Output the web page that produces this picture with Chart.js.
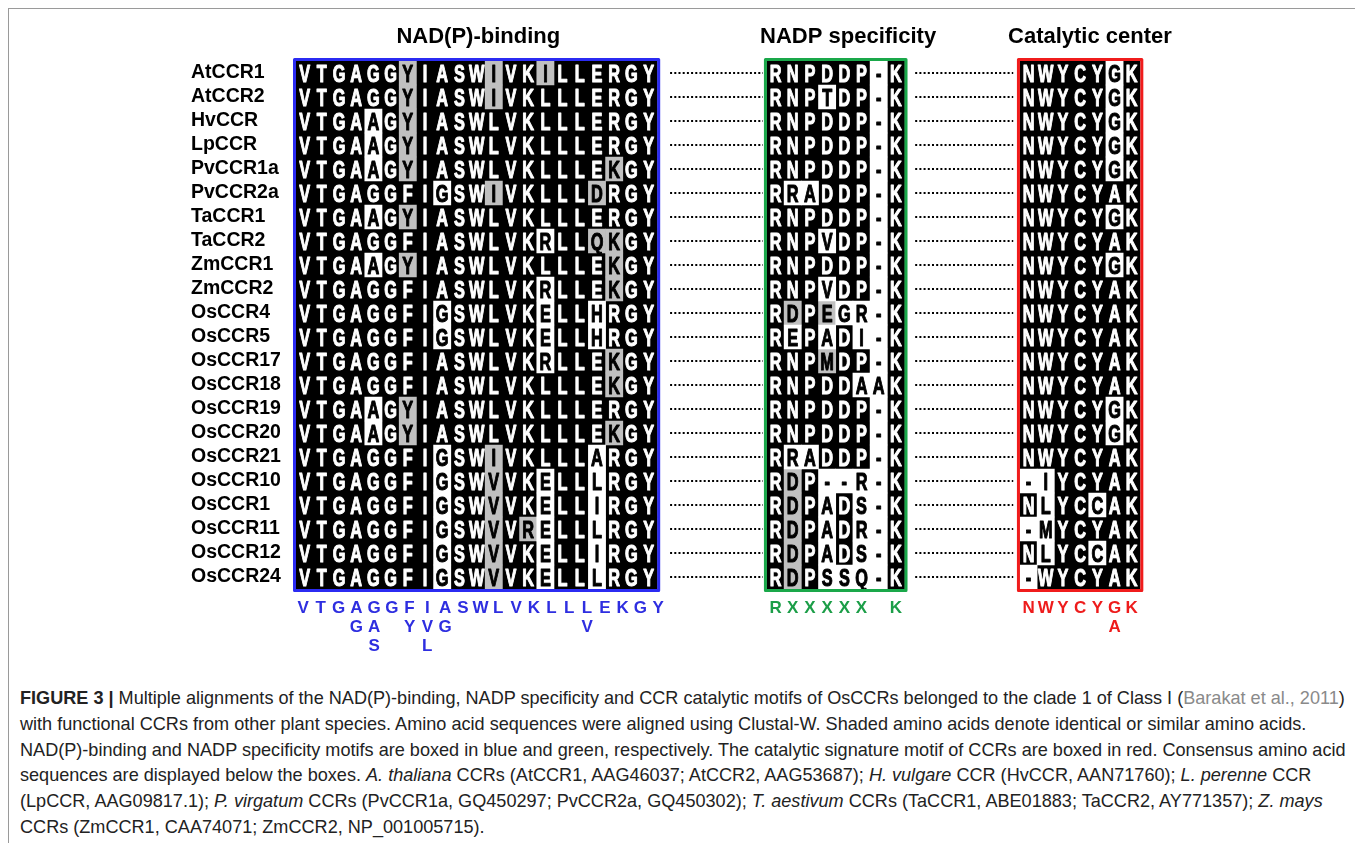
<!DOCTYPE html>
<html>
<head>
<meta charset="utf-8">
<script src="https://cdn.jsdelivr.net/npm/chart.js@4.4.1/dist/chart.umd.min.js"></script>
<style>
  body { margin: 0; background: #fff; width: 1355px; height: 843px; overflow: hidden; position: relative; font-family: "Liberation Sans", Arial, sans-serif; }
  #frame { position: absolute; left: 8px; top: 8px; width: 1400px; height: 900px; border: 1px solid #9a9a9a; }
  #wrap { position: absolute; left: 0; top: 0; width: 1355px; height: 680px; }
  #caption { position: absolute; left: 20px; top: 686px; font-size: 18.1px; line-height: 25.8px; color: #222; white-space: nowrap; }
  #caption .ref { color: #8a8a8a; }
</style>
</head>
<body>
<div id="frame"></div>
<div id="wrap"><canvas id="alignChart" width="1355" height="680"></canvas></div>
<div id="caption"><b>FIGURE 3 |</b> Multiple alignments of the NAD(P)-binding, NADP specificity and CCR catalytic motifs of OsCCRs belonged to the clade 1 of Class I (<span class="ref">Barakat et al., 2011</span>)<br>with functional CCRs from other plant species. Amino acid sequences were aligned using Clustal-W. Shaded amino acids denote identical or similar amino acids.<br>NAD(P)-binding and NADP specificity motifs are boxed in blue and green, respectively. The catalytic signature motif of CCRs are boxed in red. Consensus amino acid<br>sequences are displayed below the boxes. <i>A. thaliana</i> CCRs (AtCCR1, AAG46037; AtCCR2, AAG53687); <i>H. vulgare</i> CCR (HvCCR, AAN71760); <i>L. perenne</i> CCR<br>(LpCCR, AAG09817.1); <i>P. virgatum</i> CCRs (PvCCR1a, GQ450297; PvCCR2a, GQ450302); <i>T. aestivum</i> CCRs (TaCCR1, ABE01883; TaCCR2, AY771357); <i>Z. mays</i><br>CCRs (ZmCCR1, CAA74071; ZmCCR2, NP_001005715).</div>
<script>
const rows = ["AtCCR1", "AtCCR2", "HvCCR", "LpCCR", "PvCCR1a", "PvCCR2a", "TaCCR1", "TaCCR2", "ZmCCR1", "ZmCCR2", "OsCCR4", "OsCCR5", "OsCCR17", "OsCCR18", "OsCCR19", "OsCCR20", "OsCCR21", "OsCCR10", "OsCCR1", "OsCCR11", "OsCCR12", "OsCCR24"];

// shading: "." identical (black), "w" differing (white), "g" similar (grey)
const bindingSeq = [
  "VTGAGGYIASWIVKILLERGY", "VTGAGGYIASWIVKLLLERGY", "VTGAAGYIASWLVKLLLERGY", "VTGAAGYIASWLVKLLLERGY",
  "VTGAAGYIASWLVKLLLEKGY", "VTGAGGFIGSWIVKLLLDRGY", "VTGAAGYIASWLVKLLLERGY", "VTGAGGFIASWLVKRLLQKGY",
  "VTGAAGYIASWLVKLLLEKGY", "VTGAGGFIASWLVKRLLEKGY", "VTGAGGFIGSWLVKELLHRGY", "VTGAGGFIGSWLVKELLHRGY",
  "VTGAGGFIASWLVKRLLEKGY", "VTGAGGFIASWLVKLLLEKGY", "VTGAAGYIASWLVKLLLERGY", "VTGAAGYIASWLVKLLLEKGY",
  "VTGAGGFIGSWIVKLLLARGY", "VTGAGGFIGSWVVKELLLRGY", "VTGAGGFIGSWVVKELLIRGY", "VTGAGGFIGSWVVRELLLRGY",
  "VTGAGGFIGSWVVKELLIRGY", "VTGAGGFIGSWVVKELLLRGY"
];
const bindingShade = [
  "......g....g..g......", "......g....g.........", "....w.g..............", "....w.g..............",
  "....w.g...........g..", "........w..g.....g...", "....w.g..............", "..............w..gg..",
  "....w.g...........g..", "..............w...g..", "........w.....w..w...", "........w.....w..w...",
  "..............w...g..", "..................g..", "....w.g..............", "....w.g...........g..",
  "........w..g.....w...", "........w..g..w..w...", "........w..g..w..w...", "........w..g.gw..w...",
  "........w..g..w..w...", "........w..g..w..w..."
];
const specSeq = [
  "RNPDDP-K", "RNPTDP-K", "RNPDDP-K", "RNPDDP-K", "RNPDDP-K", "RRADDP-K", "RNPDDP-K", "RNPVDP-K",
  "RNPDDP-K", "RNPVDP-K", "RDPEGR-K", "REPADI-K", "RNPMDP-K", "RNPDDAAK", "RNPDDP-K", "RNPDDP-K",
  "RRADDP-K", "RDP--R-K", "RDPADS-K", "RDPADR-K", "RDPADS-K", "RDPSSQ-K"
];
const specShade = [
  "......w.", "...w..w.", "......w.", "......w.", "......w.", ".ww...w.", "......w.", "...w..w.",
  "......w.", "...w..w.", ".g.gwww.", ".w.w.ww.", "...g..w.", ".....ww.", "......w.", "......w.",
  ".ww...w.", ".g.wwww.", ".g.w.ww.", ".g.w.ww.", ".g.w.ww.", ".g.wwww."
];
const catSeq = [
  "NWYCYGK", "NWYCYGK", "NWYCYGK", "NWYCYGK", "NWYCYGK", "NWYCYAK", "NWYCYGK", "NWYCYAK",
  "NWYCYGK", "NWYCYAK", "NWYCYAK", "NWYCYAK", "NWYCYAK", "NWYCYAK", "NWYCYGK", "NWYCYGK",
  "NWYCYAK", "-IYCYAK", "NLYCCAK", "-MYCYAK", "NLYCCAK", "-WYCYAK"
];
const catShade = [
  ".....w.", ".....w.", ".....w.", ".....w.", ".....w.", ".......", ".....w.", ".......",
  ".....w.", ".......", ".......", ".......", ".......", ".......", ".....w.", ".....w.",
  ".......", "ww.....", ".w..w..", "ww.....", ".w..w..", "w......"
];

const bindingConsensus = ["VTGAGGFIASWLVKLLLEKGY", "   GA YVG       V    ", "    S  L             "];
const specConsensus = ["RXXXXX K"];
const catConsensus = ["NWYCYGK", "     A "];

// layout in column units (1 unit = one residue cell)
const blocks = [
  { title: "NAD(P)-binding", seq: bindingSeq, shade: bindingShade, cons: bindingConsensus,
    start: 0, titleAt: 10.6, consStart: 0.41, consStep: 1.032, edge: "#2b2bf2", text: "#2e2ee0" },
  { title: "NADP specificity", seq: specSeq, shade: specShade, cons: specConsensus,
    start: 27.38, titleAt: 32.1, consStart: 0.5, consStep: 1, edge: "#1aa84a", text: "#1c9e48" },
  { title: "Catalytic center", seq: catSeq, shade: catShade, cons: catConsensus,
    start: 42.09, titleAt: 46.16, consStart: 0.5, consStep: 1, edge: "#f01c1c", text: "#ee1c1c" }
];
const leaders = [[21.75, 27.15], [36.0, 41.7]];
const FONT = '"Liberation Sans", Arial, sans-serif';
const shadeColor = { ".": "#000000", w: "#ffffff", g: "#c0c0c0" };

function cells(kind) {
  const out = [];
  blocks.forEach((b) => {
    b.shade.forEach((s, r) => {
      for (let c = 0; c < s.length; c++) {
        if (s[c] === kind) out.push({ y: rows[r], x: [b.start + c, b.start + c + 1] });
      }
    });
  });
  return out;
}

const boxes = [];
blocks.forEach((b) => {
  rows.forEach((r) => boxes.push({ y: r, x: [b.start, b.start + b.seq[0].length] }));
});

const alignPlugin = {
  id: "alignText",
  afterDatasetsDraw(chart) {
    const ctx = chart.ctx;
    const xs = chart.scales.x;
    const ys = chart.scales.y;
    const area = chart.chartArea;
    ctx.save();

    // dotted leaders between boxes
    ctx.strokeStyle = "#000";
    ctx.lineWidth = 2;
    ctx.setLineDash([2, 2.2]);
    rows.forEach((r, i) => {
      const py = ys.getPixelForValue(i);
      leaders.forEach((l) => {
        ctx.beginPath();
        ctx.moveTo(xs.getPixelForValue(l[0]), py);
        ctx.lineTo(xs.getPixelForValue(l[1]), py);
        ctx.stroke();
      });
    });
    ctx.setLineDash([]);

    blocks.forEach((b) => {
      const n = b.seq[0].length;
      const left = xs.getPixelForValue(b.start);
      const right = xs.getPixelForValue(b.start + n);

      // residues
      ctx.font = "bold 24px " + FONT;
      ctx.textAlign = "center";
      ctx.textBaseline = "alphabetic";
      ctx.lineJoin = "round";
      b.seq.forEach((s, r) => {
        const py = ys.getPixelForValue(r) + 8.6;
        for (let c = 0; c < n; c++) {
          const col = b.shade[r][c] === "." ? "#fff" : "#000";
          ctx.fillStyle = col;
          ctx.strokeStyle = col;
          ctx.lineWidth = 1.1;
          ctx.save();
          ctx.translate(xs.getPixelForValue(b.start + c + 0.5), py);
          ctx.scale(0.68, 1);
          ctx.fillText(s[c], 0, 0);
          ctx.strokeText(s[c], 0, 0);
          ctx.restore();
        }
      });

      // box outline
      ctx.strokeStyle = b.edge;
      ctx.lineWidth = 3;
      ctx.strokeRect(left - 1.5, area.top - 1.5, right - left + 3, area.bottom - area.top + 3);

      // title
      ctx.fillStyle = "#000";
      ctx.font = "bold 22px " + FONT;
      ctx.fillText(b.title, xs.getPixelForValue(b.titleAt), 43);

      // consensus
      ctx.fillStyle = b.text;
      ctx.font = "bold 17px " + FONT;
      b.cons.forEach((line, k) => {
        const py = area.bottom + 24 + k * 19;
        for (let c = 0; c < line.length; c++) {
          if (line[c] === " ") continue;
          ctx.fillText(line[c], xs.getPixelForValue(b.start + b.consStart + c * b.consStep), py);
        }
      });
    });
    ctx.restore();
  }
};

Chart.defaults.font.family = FONT;

new Chart(document.getElementById("alignChart"), {
  type: "bar",
  data: {
    labels: rows,
    datasets: [
      { label: "box", data: boxes, backgroundColor: shadeColor["."], order: 3 },
      { label: "different", data: cells("w"), backgroundColor: shadeColor.w, order: 1 },
      { label: "similar", data: cells("g"), backgroundColor: shadeColor.g, order: 2 }
    ]
  },
  options: {
    indexAxis: "y",
    responsive: false,
    devicePixelRatio: 1,
    animation: false,
    layout: { padding: { left: 191, top: 61, right: 214.5, bottom: 91 } },
    datasets: {
      bar: { grouped: false, barPercentage: 1, categoryPercentage: 1, borderWidth: 0 }
    },
    plugins: { legend: { display: false }, tooltip: { enabled: false } },
    scales: {
      x: { type: "linear", min: 0, max: 49.1, display: false },
      y: {
        type: "category",
        grid: { display: false },
        border: { display: false },
        ticks: { crossAlign: "far", autoSkip: false, color: "#000", font: { size: 19.5, weight: "bold" } },
        afterFit: (s) => { s.width = 105; }
      }
    }
  },
  plugins: [alignPlugin]
});
</script>
</body>
</html>
